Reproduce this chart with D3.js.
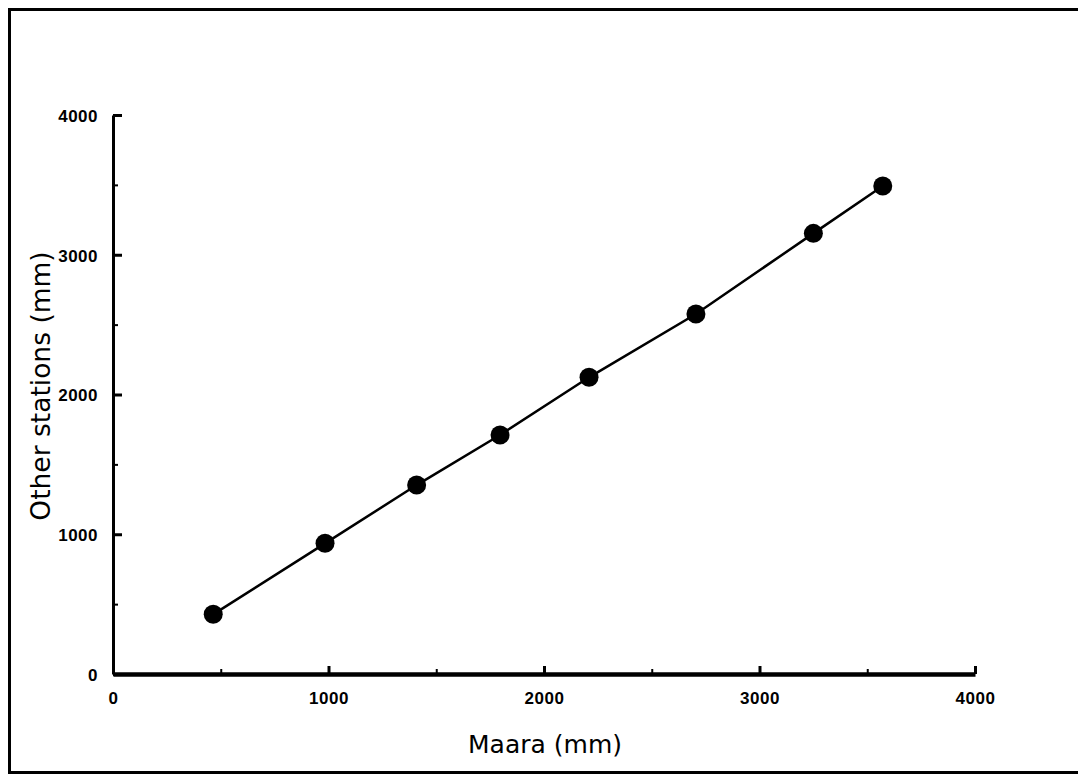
<!DOCTYPE html>
<html>
<head>
<meta charset="utf-8">
<script src="https://cdn.jsdelivr.net/npm/d3@7"></script>
<style>
	html, body { margin: 0; padding: 0; background: #fff; }
	svg { display: block; }
	.label { font-family: "DejaVu Sans", Verdana, sans-serif; fill: #000; }
</style>
</head>
<body>
<div id="chart"></div>
<script>
/*
*	Data
*/
var maara = [465, 984, 1409, 1796, 2209, 2705, 3250, 3572];
var otherStations = [427, 935, 1352, 1710, 2123, 2576, 3153, 3492];
var majorTicks = [0, 1000, 2000, 3000, 4000];
var minorTicks = [500, 1500, 2500, 3500];
var xTitle = 'Maara (mm)';
var yTitle = 'Other stations (mm)';

var width = 1078,
	height = 776;

var svg = d3
	.select('#chart')
	.append('svg')
	.attr('width', width)
	.attr('height', height);

// frame round the figure (right edge runs off the page)
svg
	.append('rect')
	.attr('x', 9.5)
	.attr('y', 9.5)
	.attr('width', 1090)
	.attr('height', 763)
	.attr('fill', 'none')
	.attr('stroke', '#000')
	.attr('stroke-width', 3);

var x = d3.scaleLinear().domain([0, 4000]).range([113, 975]);
var y = d3.scaleLinear().domain([0, 4000]).range([674, 115]);

var fmt = d3.format('d');

/*
*	Axes: major ticks with labels, minor ticks without
*/
var xAxis = svg
	.append('g')
	.attr('transform', 'translate(0,674)')
	.call(d3.axisBottom(x).tickValues(majorTicks).tickFormat(fmt).tickSizeInner(-8).tickSizeOuter(0).tickPadding(18));

var xMinor = svg
	.append('g')
	.attr('transform', 'translate(0,674)')
	.call(d3.axisBottom(x).tickValues(minorTicks).tickSizeInner(-5).tickSizeOuter(0).tickFormat(''));

var yAxis = svg
	.append('g')
	.attr('transform', 'translate(113,0)')
	.call(d3.axisLeft(y).tickValues(majorTicks).tickFormat(fmt).tickSizeInner(-9).tickSizeOuter(0).tickPadding(15));

var yMinor = svg
	.append('g')
	.attr('transform', 'translate(113,0)')
	.call(d3.axisLeft(y).tickValues(minorTicks).tickSizeInner(-5).tickSizeOuter(0).tickFormat(''));

xMinor.select('.domain').remove();
yMinor.select('.domain').remove();

xAxis.select('.domain').attr('stroke', '#000').attr('stroke-width', 4.5);
yAxis.select('.domain').attr('stroke', '#000').attr('stroke-width', 3);
xAxis.selectAll('.tick line').attr('stroke', '#000').attr('stroke-width', 3);
yAxis.selectAll('.tick line').attr('stroke', '#000').attr('stroke-width', 3);
xMinor.selectAll('.tick line').attr('stroke', '#000').attr('stroke-width', 2);
yMinor.selectAll('.tick line').attr('stroke', '#000').attr('stroke-width', 2);

[xAxis, yAxis].forEach(function (g) {
	g.attr('font-family', '"Liberation Sans", Arial, sans-serif').attr('font-size', 17);
	g.selectAll('.tick text')
		.attr('fill', '#000')
		.attr('font-weight', 'bold')
		.attr('letter-spacing', '0.5px');
});
yAxis.selectAll('.tick text').attr('dy', '0.38em');

/*
*	Axis titles
*/
svg
	.append('text')
	.attr('class', 'label')
	.attr('x', 545)
	.attr('y', 753)
	.attr('text-anchor', 'middle')
	.attr('font-size', 25)
	.text(xTitle);

svg
	.append('text')
	.attr('class', 'label')
	.attr('transform', 'translate(50,386) rotate(-90)')
	.attr('text-anchor', 'middle')
	.attr('font-size', 26.5)
	.text(yTitle);

/*
*	Series: line plus markers
*/
var points = maara.map(function (d, i) {
	return { x: d, y: otherStations[i] };
});

var line = d3
	.line()
	.x(function (d) {
		return x(d.x);
	})
	.y(function (d) {
		return y(d.y);
	});

svg
	.append('path')
	.datum(points)
	.attr('d', line)
	.attr('fill', 'none')
	.attr('stroke', '#000')
	.attr('stroke-width', 2.5);

svg
	.selectAll('.dot')
	.data(points)
	.enter()
	.append('circle')
	.attr('class', 'dot')
	.attr('cx', function (d) {
		return x(d.x);
	})
	.attr('cy', function (d) {
		return y(d.y);
	})
	.attr('r', 9.5)
	.attr('fill', '#000');
</script>
</body>
</html>
